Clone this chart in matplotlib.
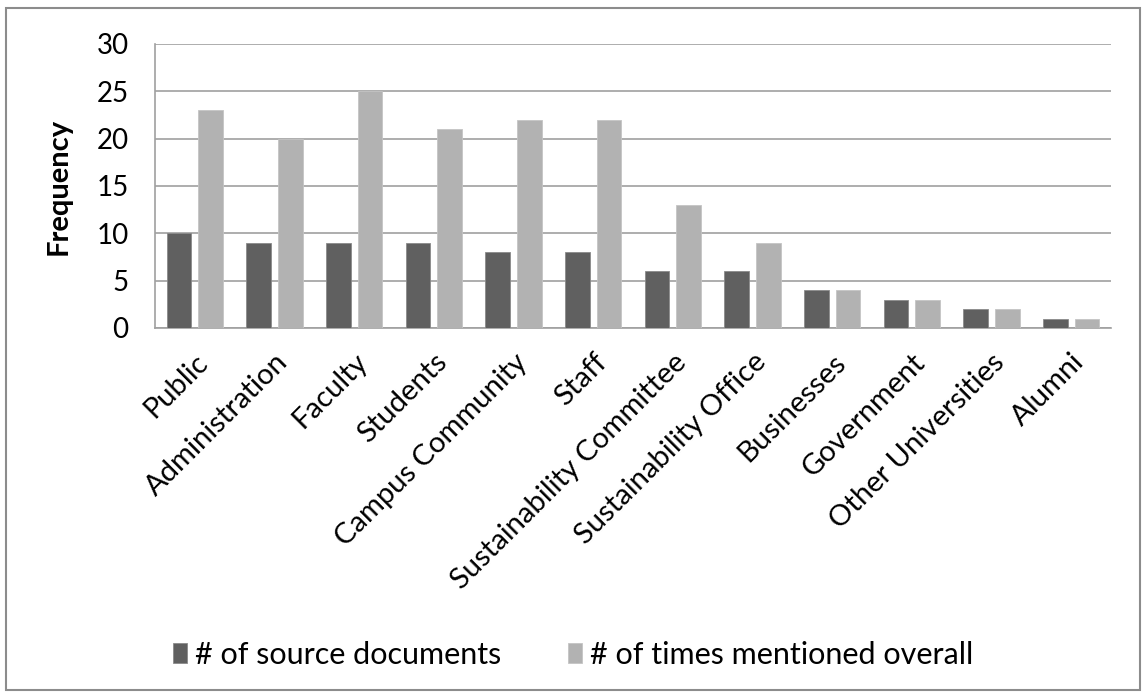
import matplotlib.pyplot as plt
import numpy as np

categories = ["Public", "Administration", "Faculty", "Students", "Campus Community",
              "Staff", "Sustainability Committee", "Sustainability Office",
              "Businesses", "Government", "Other Universities", "Alumni"]
source_docs = [10, 9, 9, 9, 8, 8, 6, 6, 4, 3, 2, 1]
times_mentioned = [23, 20, 25, 21, 22, 22, 13, 9, 4, 3, 2, 1]

# Lato is close to Calibri in widths
plt.rcParams['font.family'] = ['Lato', 'DejaVu Sans']

fig = plt.figure(figsize=(11.46, 6.96), dpi=100)
fig.patch.set_facecolor("white")

# outer chart border
fig.add_artist(plt.Rectangle((0.005, 0.008), 0.99, 0.98, transform=fig.transFigure,
                             fill=False, edgecolor="#8c8c8c", linewidth=1.5))

ax = fig.add_axes([155/1146, 1 - 328/696, (1111-155)/1146, (328-44)/696])

x = np.arange(len(categories))
w = 0.31
ax.bar(x - 0.2, source_docs, w, color="#606060", edgecolor="#8a8a8a", linewidth=0.6,
       label="# of source documents", zorder=3)
ax.bar(x + 0.2, times_mentioned, w, color="#b2b2b2", edgecolor="#c4c4c4", linewidth=0.6,
       label="# of times mentioned overall", zorder=3)

ax.set_xlim(-0.5, len(categories) - 0.5)
ax.set_ylim(0, 30)
ax.set_yticks(range(0, 31, 5))
ax.yaxis.grid(True, color="#a0a0a0", linewidth=1.2)
ax.set_axisbelow(True)
for s in ["top", "right"]:
    ax.spines[s].set_visible(False)
ax.spines["left"].set_color("#a0a0a0")
ax.spines["bottom"].set_color("#a0a0a0")
ax.spines["left"].set_linewidth(1.2)
ax.spines["bottom"].set_linewidth(1.2)

ax.set_xticks(x)
ax.set_xticklabels(categories, rotation=45, ha="right", rotation_mode="anchor", fontsize=21)
ax.tick_params(axis="x", length=0, pad=15)
ax.tick_params(axis="y", length=0, labelsize=20, pad=19)
ax.set_ylabel("Frequency", fontsize=21, fontweight="bold")
ax.yaxis.set_label_coords(-0.087, 0.5)

fig.legend(loc="center", bbox_to_anchor=(0.5, 1 - 655/696), ncol=2, frameon=False,
           fontsize=22, handlelength=0.45, handleheight=0.65, handletextpad=0.25,
           columnspacing=2.2)

fig.savefig("out.png", dpi=100)
